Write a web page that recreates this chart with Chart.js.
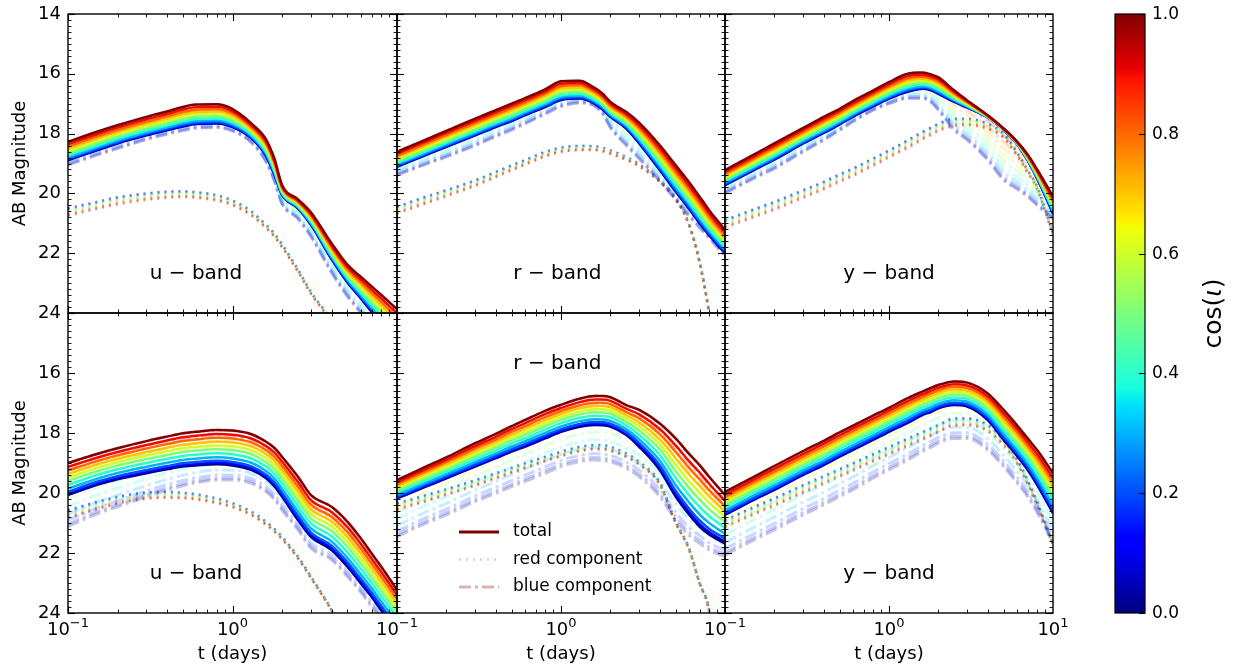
<!DOCTYPE html>
<html>
<head>
<meta charset="utf-8">
<script src="https://cdn.jsdelivr.net/npm/chart.js@4.4.0/dist/chart.umd.min.js"></script>
<style>
  html, body { margin: 0; background: #fff; }
  #wrap { position: relative; width: 1233px; height: 670px; }
  #wrap canvas { position: absolute; left: 0; top: 0; }
</style>
</head>
<body>
<div id="wrap"></div>
<script>
// time samples (days) shared by every curve
const T = [0.1, 0.15, 0.2, 0.3, 0.4, 0.5, 0.6, 0.8, 1, 1.3, 1.6, 1.8, 2, 2.5, 3, 4, 5, 6, 7, 8, 10];
const cosValues = [0, 0.1, 0.2, 0.3, 0.4, 0.5, 0.6, 0.7, 0.8, 0.9, 1.0];
// where each cos(i) curve sits between the cos=1 curve (0) and the cos=0 curve (1), read at the peaks
const spreadUpper = [1, 0.97, 0.92, 0.84, 0.74, 0.62, 0.5, 0.38, 0.26, 0.13, 0];
const spreadLower = [1, 0.96, 0.9, 0.8, 0.68, 0.56, 0.45, 0.34, 0.23, 0.12, 0];

const magTicks = [14, 16, 18, 20, 22, 24];
const timeTicks = [0.1, 1, 10];
const timeTickExp = ['\u22121', '0', '1'];
const cbarTicks = [0, 0.2, 0.4, 0.6, 0.8, 1.0];
const cbarTickLabels = ['0.0', '0.2', '0.4', '0.6', '0.8', '1.0'];

// upper row
const uUpperTotal1 = [18.28, 17.94, 17.72, 17.44, 17.26, 17.11, 17.03, 17.02, 17.18, 17.66, 18.2, 18.85, 19.72, 20.2, 20.64, 21.67, 22.39, 22.78, 23.11, 23.39, 23.87];
const uUpperTotal0 = [18.89, 18.56, 18.33, 18.06, 17.89, 17.76, 17.68, 17.66, 17.78, 18.15, 18.75, 19.38, 20.05, 20.5, 21.05, 22.2, 22.98, 23.5, 23.95, 24.3, 24.9];
const uUpperRed0 = [20.5, 20.28, 20.13, 20.0, 19.94, 19.93, 19.96, 20.06, 20.24, 20.6, 21.05, 21.35, 21.7, 22.55, 23.3, 24.3, 25.6, 26.8, 28, 29, 31];
const uUpperRed1 = [20.75, 20.52, 20.37, 20.22, 20.15, 20.13, 20.15, 20.24, 20.4, 20.74, 21.17, 21.46, 21.8, 22.62, 23.36, 24.35, 25.6, 26.8, 28, 29, 31];
const uUpperBlue0 = [19.05, 18.72, 18.5, 18.2, 18.02, 17.9, 17.82, 17.8, 17.92, 18.3, 18.95, 19.6, 20.35, 20.85, 21.45, 22.65, 23.45, 24.0, 24.5, 24.9, 25.5];

const rUpperTotal1 = [18.61, 18.2, 17.91, 17.5, 17.22, 17.0, 16.82, 16.52, 16.25, 16.23, 16.47, 16.67, 16.94, 17.28, 17.64, 18.39, 19.06, 19.61, 20.11, 20.56, 21.22];
const rUpperTotal0 = [19.11, 18.72, 18.44, 18.06, 17.78, 17.58, 17.39, 17.11, 16.88, 16.83, 17.0, 17.2, 17.44, 17.83, 18.33, 19.22, 19.94, 20.5, 21.0, 21.4, 22.0];
const rUpperRed0 = [20.44, 20.11, 19.89, 19.56, 19.28, 19.06, 18.89, 18.61, 18.47, 18.41, 18.42, 18.48, 18.56, 18.78, 19.02, 19.56, 20.15, 21.0, 22.3, 24.0, 28.0];
const rUpperRed1 = [20.68, 20.34, 20.1, 19.75, 19.46, 19.23, 19.05, 18.77, 18.62, 18.56, 18.56, 18.6, 18.68, 18.88, 19.1, 19.62, 20.2, 21.02, 22.3, 24.0, 28.0];
const rUpperBlue0 = [19.39, 19.03, 18.78, 18.4, 18.1, 17.88, 17.68, 17.35, 17.1, 16.98, 17.08, 17.35, 17.8, 18.4, 18.85, 19.6, 20.22, 20.75, 21.15, 21.5, 22.1];

const yUpperTotal1 = [19.22, 18.7, 18.33, 17.81, 17.44, 17.17, 16.92, 16.56, 16.28, 16.0, 15.96, 16.02, 16.12, 16.56, 16.89, 17.39, 17.83, 18.25, 18.7, 19.2, 20.1];
const yUpperTotal0 = [19.72, 19.22, 18.87, 18.33, 17.98, 17.69, 17.44, 17.09, 16.83, 16.6, 16.5, 16.55, 16.67, 16.94, 17.13, 17.46, 17.88, 18.33, 18.89, 19.5, 20.67];
const yUpperRed0 = [20.89, 20.53, 20.28, 19.89, 19.61, 19.36, 19.17, 18.83, 18.56, 18.22, 17.94, 17.8, 17.67, 17.5, 17.5, 17.67, 18.0, 18.61, 19.22, 19.78, 21.33];
const yUpperRed1 = [21.15, 20.8, 20.55, 20.15, 19.87, 19.62, 19.42, 19.08, 18.8, 18.48, 18.2, 18.05, 17.92, 17.75, 17.72, 17.85, 18.15, 18.72, 19.3, 19.85, 21.4];
const yUpperBlue0 = [20.0, 19.5, 19.17, 18.61, 18.22, 17.89, 17.61, 17.22, 17.0, 16.83, 16.83, 16.95, 17.22, 17.89, 18.22, 18.89, 19.56, 19.85, 20.11, 20.4, 20.85];

// lower row
const uLowerTotal1 = [19.0, 18.7, 18.51, 18.27, 18.12, 18.01, 17.96, 17.9, 17.92, 18.04, 18.29, 18.5, 18.79, 19.46, 20.07, 20.46, 20.96, 21.5, 22.01, 22.45, 23.23];
const uLowerTotal0 = [20.07, 19.73, 19.54, 19.34, 19.21, 19.12, 19.08, 19.04, 19.08, 19.23, 19.51, 19.78, 20.12, 20.9, 21.46, 21.9, 22.46, 23.0, 23.46, 23.9, 24.57];
const uLowerRed0 = [20.57, 20.29, 20.12, 19.98, 19.96, 19.99, 20.04, 20.18, 20.34, 20.62, 20.96, 21.2, 21.46, 22.12, 22.79, 23.9, 25.0, 26.0, 27.0, 28.0, 30.0];
const uLowerRed1 = [20.84, 20.55, 20.36, 20.2, 20.17, 20.18, 20.22, 20.34, 20.48, 20.74, 21.06, 21.29, 21.54, 22.18, 22.84, 23.92, 25.0, 26.0, 27.0, 28.0, 30.0];
const uLowerBlue0 = [21.12, 20.7, 20.46, 20.12, 19.9, 19.76, 19.66, 19.57, 19.57, 19.68, 19.96, 20.22, 20.57, 21.23, 21.84, 22.23, 22.79, 23.3, 23.79, 24.2, 24.9];

const rLowerTotal1 = [19.57, 19.12, 18.81, 18.34, 18.03, 17.77, 17.57, 17.26, 17.06, 16.86, 16.77, 16.77, 16.81, 17.07, 17.23, 17.68, 18.18, 18.68, 19.07, 19.46, 20.07];
const rLowerTotal0 = [20.18, 19.79, 19.51, 19.12, 18.84, 18.62, 18.46, 18.18, 17.96, 17.79, 17.73, 17.74, 17.79, 18.07, 18.46, 19.23, 20.12, 20.7, 21.12, 21.38, 21.68];
const rLowerRed0 = [20.34, 20.07, 19.87, 19.57, 19.34, 19.16, 19.01, 18.79, 18.62, 18.46, 18.4, 18.4, 18.46, 18.68, 18.96, 19.65, 20.97, 21.8, 23.0, 23.9, 28.0];
const rLowerRed1 = [20.57, 20.28, 20.07, 19.76, 19.52, 19.33, 19.18, 18.95, 18.78, 18.61, 18.55, 18.55, 18.6, 18.8, 19.06, 19.72, 21.0, 21.85, 23.0, 23.95, 28.0];
const rLowerBlue0 = [21.46, 21.01, 20.73, 20.29, 20.01, 19.79, 19.62, 19.34, 19.12, 18.96, 18.9, 18.92, 18.96, 19.18, 19.46, 20.12, 20.9, 21.4, 21.68, 21.9, 22.12];

const yLowerTotal1 = [19.96, 19.46, 19.1, 18.6, 18.26, 17.98, 17.76, 17.42, 17.16, 16.84, 16.62, 16.5, 16.4, 16.28, 16.32, 16.68, 17.23, 17.73, 18.18, 18.57, 19.34];
const yLowerTotal0 = [20.73, 20.23, 19.9, 19.4, 19.07, 18.79, 18.57, 18.23, 17.96, 17.66, 17.4, 17.3, 17.18, 17.07, 17.12, 17.57, 18.23, 18.75, 19.23, 19.73, 20.68];
const yLowerRed0 = [20.9, 20.46, 20.17, 19.73, 19.43, 19.2, 19.01, 18.7, 18.46, 18.18, 17.96, 17.84, 17.73, 17.51, 17.51, 17.73, 18.23, 18.85, 19.57, 20.3, 21.68];
const yLowerRed1 = [21.15, 20.72, 20.43, 20.0, 19.7, 19.46, 19.27, 18.95, 18.72, 18.44, 18.22, 18.1, 17.98, 17.76, 17.75, 17.95, 18.42, 19.0, 19.7, 20.4, 21.75];
const yLowerBlue0 = [22.07, 21.57, 21.23, 20.73, 20.4, 20.12, 19.9, 19.51, 19.23, 18.9, 18.62, 18.48, 18.34, 18.18, 18.18, 18.57, 19.12, 19.65, 20.12, 20.65, 21.68];

const W = 1233, H = 670;
const colX = [[68, 397], [397, 725], [725, 1053]];
const rowY = [[14, 313], [313, 613]];
const FONT = "'DejaVu Sans', sans-serif";

const panels = [
  { col: 0, row: 0, t1: uUpperTotal1, t0: uUpperTotal0, r0: uUpperRed0, r1: uUpperRed1, b0: uUpperBlue0, spread: spreadUpper, band: 'u \u2212 band', bandAt: [0.6, 22.7] },
  { col: 1, row: 0, t1: rUpperTotal1, t0: rUpperTotal0, r0: rUpperRed0, r1: rUpperRed1, b0: rUpperBlue0, spread: spreadUpper, band: 'r \u2212 band', bandAt: [0.95, 22.7] },
  { col: 2, row: 0, t1: yUpperTotal1, t0: yUpperTotal0, r0: yUpperRed0, r1: yUpperRed1, b0: yUpperBlue0, spread: spreadUpper, band: 'y \u2212 band', bandAt: [1.0, 22.7] },
  { col: 0, row: 1, t1: uLowerTotal1, t0: uLowerTotal0, r0: uLowerRed0, r1: uLowerRed1, b0: uLowerBlue0, spread: spreadLower, band: 'u \u2212 band', bandAt: [0.6, 22.7] },
  { col: 1, row: 1, t1: rLowerTotal1, t0: rLowerTotal0, r0: rLowerRed0, r1: rLowerRed1, b0: rLowerBlue0, spread: spreadLower, band: 'r \u2212 band', bandAt: [0.95, 15.7], legend: true },
  { col: 2, row: 1, t1: yLowerTotal1, t0: yLowerTotal0, r0: yLowerRed0, r1: yLowerRed1, b0: yLowerBlue0, spread: spreadLower, band: 'y \u2212 band', bandAt: [1.0, 22.7] }
];

// matplotlib "jet"
function jet(v) {
  const seg = (p) => {
    for (let i = 1; i < p.length; i++) {
      if (v <= p[i][0]) return p[i - 1][1] + (p[i][1] - p[i - 1][1]) * (v - p[i - 1][0]) / (p[i][0] - p[i - 1][0]);
    }
    return p[p.length - 1][1];
  };
  return [
    seg([[0, 0], [0.35, 0], [0.66, 1], [0.89, 1], [1, 0.5]]),
    seg([[0, 0], [0.125, 0], [0.375, 1], [0.64, 1], [0.91, 0], [1, 0]]),
    seg([[0, 0.5], [0.11, 1], [0.34, 1], [0.65, 0], [1, 0]])
  ].map(c => Math.round(c * 255));
}
const rgba = (c, a) => `rgba(${c[0]},${c[1]},${c[2]},${a})`;

function mix(a, b, f) { return a.map((v, i) => v + (b[i] - v) * f); }
function pts(arr) { return T.map((t, i) => ({ x: t, y: arr[i] })); }

function buildDatasets(p) {
  const ds = [];
  cosValues.forEach((c, k) => {
    const col = jet(c);
    const f = p.spread[k];
    ds.push({ data: pts(mix(p.t1, p.t0, f)), borderColor: rgba(col, 1), borderWidth: 2.5, order: 10 - k });
    ds.push({ data: pts(mix(p.r1, p.r0, f)), borderColor: rgba(col, 0.3), borderWidth: 2.5, borderDash: [2, 5], order: 40 - k });
    ds.push({ data: pts(mix(p.t1, p.b0, f)), borderColor: rgba(col, 0.22), borderWidth: 3, borderDash: [12, 4, 3, 4], order: 30 - k });
  });
  return ds;
}

function line(ctx, x0, y0, x1, y1) { ctx.beginPath(); ctx.moveTo(x0, y0); ctx.lineTo(x1, y1); ctx.stroke(); }

const decor = {
  id: 'decor',
  afterDraw(chart, args, o) {
    const ctx = chart.ctx, a = chart.chartArea, xs = chart.scales.x, ys = chart.scales.y;
    ctx.save();
    ctx.strokeStyle = '#000';
    ctx.fillStyle = '#000';
    // y ticks, inward, both sides
    for (let k = 0; k <= 50; k++) {
      const v = 14 + k * 0.2;
      const py = Math.round(ys.getPixelForValue(v)) + 0.5;
      const major = k % 10 === 0;
      const len = major ? 7 : 3.5;
      ctx.lineWidth = major ? 1.1 : 0.9;
      line(ctx, a.left, py, a.left + len, py);
      line(ctx, a.right - len, py, a.right, py);
    }
    // x ticks (log), inward, top and bottom
    [0.1, 1].forEach(d => {
      for (let m = 1; m <= 9; m++) {
        const px = Math.round(xs.getPixelForValue(m * d)) + 0.5;
        const len = m === 1 ? 7 : 3.5;
        ctx.lineWidth = m === 1 ? 1.1 : 0.9;
        line(ctx, px, a.top, px, a.top + len);
        line(ctx, px, a.bottom - len, px, a.bottom);
      }
    });
    // frame
    ctx.lineWidth = 1.4;
    ctx.strokeRect(a.left, a.top, a.right - a.left, a.bottom - a.top);

    // y tick labels
    if (o.yLabels) {
      ctx.font = '18px ' + FONT;
      ctx.textAlign = 'right';
      ctx.textBaseline = 'middle';
      o.yLabels.forEach(v => ctx.fillText(String(v), a.left - 7, ys.getPixelForValue(v)));
      ctx.save();
      ctx.translate(25, (a.top + a.bottom) / 2);
      ctx.rotate(-Math.PI / 2);
      ctx.textAlign = 'center';
      ctx.textBaseline = 'alphabetic';
      ctx.fillText('AB Magnitude', 0, 0);
      ctx.restore();
    }
    // x tick labels and title
    if (o.xLabels) {
      timeTicks.forEach((t, i) => {
        if (i === timeTicks.length - 1 && !o.lastXLabel) return;
        const px = xs.getPixelForValue(t);
        ctx.font = '18px ' + FONT;
        const wb = ctx.measureText('10').width;
        ctx.font = '13px ' + FONT;
        const we = ctx.measureText(timeTickExp[i]).width;
        const left = px - (wb + we) / 2;
        ctx.textAlign = 'left';
        ctx.textBaseline = 'alphabetic';
        ctx.font = '18px ' + FONT;
        ctx.fillText('10', left, a.bottom + 22);
        ctx.font = '13px ' + FONT;
        ctx.fillText(timeTickExp[i], left + wb, a.bottom + 14);
      });
      ctx.font = '18px ' + FONT;
      ctx.textAlign = 'center';
      ctx.textBaseline = 'alphabetic';
      ctx.fillText('t (days)', (a.left + a.right) / 2, a.bottom + 46);
    }
    // band label
    ctx.font = '20px ' + FONT;
    ctx.textAlign = 'center';
    ctx.textBaseline = 'middle';
    ctx.fillText(o.band, xs.getPixelForValue(o.bandAt[0]), ys.getPixelForValue(o.bandAt[1]));

    // legend
    if (o.legend) {
      const lx0 = a.left + 62, lx1 = a.left + 102, tx = a.left + 116;
      const rows = [
        { label: 'total', color: 'rgb(128,0,0)', width: 3, dash: [] },
        { label: 'red component', color: 'rgba(128,0,0,0.2)', width: 2.5, dash: [2, 5] },
        { label: 'blue component', color: 'rgba(128,0,0,0.3)', width: 3, dash: [12, 4, 3, 4] }
      ];
      ctx.font = '17px ' + FONT;
      ctx.textAlign = 'left';
      ctx.textBaseline = 'middle';
      rows.forEach((r, i) => {
        const y = a.top + 219 + i * 27.5;
        ctx.save();
        ctx.strokeStyle = r.color;
        ctx.lineWidth = r.width;
        ctx.setLineDash(r.dash);
        line(ctx, lx0, y, lx1, y);
        ctx.restore();
        ctx.fillStyle = '#000';
        ctx.fillText(r.label, tx, y);
      });
    }
    ctx.restore();
  }
};

const wrap = document.getElementById('wrap');
function makeCanvas() {
  const c = document.createElement('canvas');
  c.width = W; c.height = H;
  c.style.width = W + 'px'; c.style.height = H + 'px';
  wrap.appendChild(c);
  return c;
}

panels.forEach(p => {
  const [x0, x1] = colX[p.col], [y0, y1] = rowY[p.row];
  new Chart(makeCanvas(), {
    type: 'line',
    data: { datasets: buildDatasets(p) },
    options: {
      responsive: false,
      animation: false,
      devicePixelRatio: 1,
      events: [],
      layout: { padding: { left: x0, right: W - x1, top: y0, bottom: H - y1 } },
      elements: { point: { radius: 0 }, line: { cubicInterpolationMode: 'monotone', fill: false } },
      plugins: {
        legend: { display: false },
        tooltip: { enabled: false },
        decor: {
          yLabels: p.col === 0 ? (p.row === 0 ? magTicks : magTicks.slice(1)) : null,
          xLabels: p.row === 1,
          lastXLabel: p.col === 2,
          band: p.band,
          bandAt: p.bandAt,
          legend: !!p.legend
        }
      },
      scales: {
        x: { type: 'logarithmic', min: 0.1, max: 10, display: false },
        y: { type: 'linear', min: 14, max: 24, reverse: true, display: false }
      }
    },
    plugins: [decor]
  });
});

// colour bar
const cbar = {
  id: 'cbar',
  afterDraw(chart) {
    const ctx = chart.ctx, a = chart.chartArea, ys = chart.scales.y;
    ctx.save();
    const g = ctx.createLinearGradient(0, ys.getPixelForValue(0), 0, ys.getPixelForValue(1));
    [0, 0.11, 0.125, 0.34, 0.35, 0.375, 0.64, 0.65, 0.66, 0.89, 0.91, 1].forEach(v => g.addColorStop(v, rgba(jet(v), 1)));
    ctx.fillStyle = g;
    ctx.fillRect(a.left, a.top, a.right - a.left, a.bottom - a.top);
    ctx.strokeStyle = '#000';
    ctx.lineWidth = 1.2;
    ctx.strokeRect(a.left, a.top, a.right - a.left, a.bottom - a.top);
    ctx.fillStyle = '#000';
    ctx.font = '17px ' + FONT;
    ctx.textAlign = 'left';
    ctx.textBaseline = 'middle';
    cbarTicks.forEach((v, i) => {
      const py = Math.round(ys.getPixelForValue(v)) + 0.5;
      ctx.lineWidth = 1.1;
      line(ctx, a.right - 6, py, a.right, py);
      ctx.fillText(cbarTickLabels[i], a.right + 7, py);
    });
    // label cos(ι)
    ctx.translate(1221, (a.top + a.bottom) / 2);
    ctx.rotate(-Math.PI / 2);
    ctx.textBaseline = 'alphabetic';
    const up = '25px ' + FONT, it = 'italic 25px ' + FONT;
    const parts = [['cos(', up], ['\u03b9', it], [')', up]];
    let total = 0;
    parts.forEach(([s, f]) => { ctx.font = f; total += ctx.measureText(s).width; });
    let x = -total / 2;
    parts.forEach(([s, f]) => { ctx.font = f; ctx.fillText(s, x, 0); x += ctx.measureText(s).width; });
    ctx.restore();
  }
};

new Chart(makeCanvas(), {
  type: 'line',
  data: { datasets: [] },
  options: {
    responsive: false,
    animation: false,
    devicePixelRatio: 1,
    events: [],
    layout: { padding: { left: 1115, right: W - 1145, top: 14, bottom: H - 613 } },
    plugins: { legend: { display: false }, tooltip: { enabled: false } },
    scales: {
      x: { type: 'linear', min: 0, max: 1, display: false },
      y: { type: 'linear', min: 0, max: 1, display: false }
    }
  },
  plugins: [cbar]
});
</script>
</body>
</html>
